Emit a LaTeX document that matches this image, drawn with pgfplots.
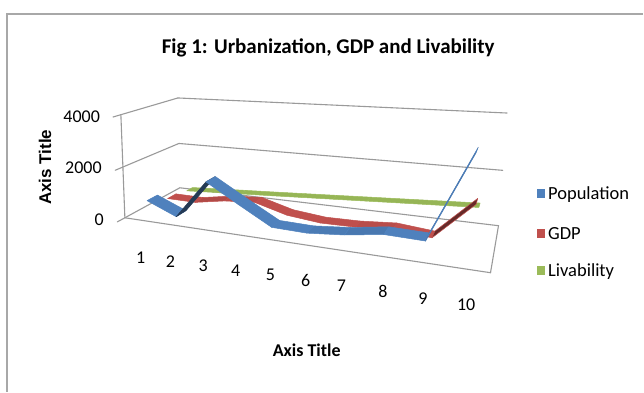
\documentclass[border=0pt]{standalone}
\usepackage{fontspec}
\setmainfont{Carlito}
\newfontfamily\arialfont{Liberation Sans}
\usepackage{pgfplots}
\usepackage{pgfplotstable}
\pgfplotsset{compat=1.18}

\definecolor{popC}{HTML}{4F81BD}
\definecolor{gdpC}{HTML}{C0504D}
\definecolor{livC}{HTML}{9BBB59}
\definecolor{gridC}{HTML}{9A9A9A}
\definecolor{frameC}{HTML}{A8A8A8}

\pgfplotstableread{
cat val
1 580
2 100
3 1590
4 890
5 210
6 180
7 300
8 500
9 470
10 3400
}\population

\pgfplotstableread{
cat val
1 210
2 200
3 410
4 500
5 160
6 30
7 50
8 150
9 30
10 1350
}\gdp

\pgfplotstableread{
cat val
1 80
2 155
3 230
4 300
5 375
6 450
7 525
8 600
9 675
10 750
}\livability

% perspective view of the 3-D line chart: (category, depth, value) -> page
\newcommand{\proj}[3]{%
  \pgfmathsetmacro{\xq}{#1-0.5}%
  \pgfmathsetmacro{\zq}{#3/1000}%
  \pgfmathsetmacro{\wq}{1-0.02381*\xq+0.05107*(#2)-0.00763*\zq}%
  \pgfmathsetmacro{\pu}{(125+24.91*\xq+27.53*(#2)-1.923*\zq)/\wq}%
  \pgfmathsetmacro{\pv}{(218-1.0*\xq-0.4086*(#2)-26.67*\zq)/\wq}%
}

% one straight wall / floor line between two points of the 3-D box
\newcommand{\wallline}[6]{%
  \proj{#1}{#2}{#3}\let\ua\pu\let\va\pv
  \proj{#4}{#5}{#6}\let\ub\pu\let\vb\pv
  \edef\temp{\noexpand\addplot[gridC, line width=1.1pt, line cap=round, forget plot]
    coordinates {(\ua,\va) (\ub,\vb)};}\temp
}

% a series drawn as a ribbon lying between depths #2 and #3
\newcommand{\ribbon}[4]{%
  \pgfplotsforeachungrouped \s in {0,...,8}{%
    \pgfmathtruncatemacro{\segB}{\s+1}%
    \pgfplotstablegetelem{\s}{cat}\of{#1}\let\xa\pgfplotsretval
    \pgfplotstablegetelem{\s}{val}\of{#1}\let\za\pgfplotsretval
    \pgfplotstablegetelem{\segB}{cat}\of{#1}\let\xb\pgfplotsretval
    \pgfplotstablegetelem{\segB}{val}\of{#1}\let\zb\pgfplotsretval
    \proj{\xa}{#2}{\za}\let\ua\pu\let\va\pv
    \proj{\xb}{#2}{\zb}\let\ub\pu\let\vb\pv
    \proj{\xb}{#3}{\zb}\let\uc\pu\let\vc\pv
    \proj{\xa}{#3}{\za}\let\ud\pu\let\vd\pv
    \pgfmathsetmacro{\crs}{(\ub-\ua)*(\vd-\va)-(\vb-\va)*(\ud-\ua)}%
    \pgfmathsetmacro{\rise}{(\zb-\za)/1000}%
    \ifdim\crs pt>0pt
      \def\fillc{#4!45!black}\def\drawc{#4!45!black}%
    \else
      \pgfmathtruncatemacro{\shd}{100-min(50,max(0,35*\rise))}%
      \edef\fillc{#4!\shd!black}\def\drawc{#4}%
    \fi
    \edef\temp{\noexpand\addplot[fill=\fillc, draw=\drawc, line width=0.5pt,
      line join=round, forget plot]
      coordinates {(\ua,\va) (\ub,\vb) (\uc,\vc) (\ud,\vd)} --cycle;}\temp
  }%
}

\begin{document}
\begin{tikzpicture}
\fill[white] (0,0) rectangle (644pt,392pt);
\begin{axis}[
  scale only axis, width=644pt, height=392pt,
  xmin=0, xmax=644, ymin=0, ymax=392, y dir=reverse,
  hide axis, clip=false, no markers,
]
% chart frame
\draw[frameC, line width=1.3pt] (axis cs:7,392) -- (axis cs:7,14) -- (axis cs:644,14);

% floor
\wallline{0.5}{0}{0}{10.5}{0}{0}
\wallline{10.5}{0}{0}{10.5}{3}{0}
\wallline{10.5}{3}{0}{0.5}{3}{0}
\wallline{0.5}{3}{0}{0.5}{0}{0}
% side wall, value axis and gridlines
\wallline{0.5}{0}{0}{0.5}{0}{4000}
\wallline{0.5}{0}{2000}{0.5}{3}{2000}
\wallline{0.5}{0}{4000}{0.5}{3}{4000}
\wallline{0.5}{3}{2000}{10.5}{3}{2000}
\wallline{0.5}{3}{4000}{10.5}{3}{4000}
% tick marks
\wallline{0.5}{0}{0}{0.5}{-0.35}{0}
\wallline{0.5}{0}{2000}{0.5}{-0.35}{2000}
\wallline{0.5}{0}{4000}{0.5}{-0.35}{4000}

% series, back to front
\ribbon{\livability}{2.63}{3.0}{livC}
\ribbon{\gdp}{1.5}{1.98}{gdpC}
\ribbon{\population}{0.42}{0.96}{popC}

% title
\node[anchor=base, font=\bfseries\fontsize{21}{24}\selectfont]
  at (axis cs:328.5,53.5) {Fig 1: Urbanization, GDP and Livability};

% value axis labels
\begin{scope}[font=\fontsize{18}{21}\selectfont]
\node[anchor=east] at (axis cs:103.5,116.5) {4000};
\node[anchor=east] at (axis cs:105.3,168) {2000};
\node[anchor=east] at (axis cs:107.5,220) {0};
% category labels
\node at (axis cs:140.7,258.3) {1};
\node at (axis cs:170.7,261.7) {2};
\node at (axis cs:203.3,266) {3};
\node at (axis cs:236,270.7) {4};
\node at (axis cs:270.7,275) {5};
\node at (axis cs:306,280.7) {6};
\node at (axis cs:341.7,286) {7};
\node at (axis cs:383.3,291.7) {8};
\node at (axis cs:423.3,299.3) {9};
\node at (axis cs:466.7,305) {10};
\end{scope}

% axis titles
\node[rotate=90, font=\arialfont\bfseries\fontsize{17}{20}\selectfont]
  at (axis cs:45,167.5) {Axis Title};
\node[font=\bfseries\fontsize{18}{21}\selectfont]
  at (axis cs:307,350.5) {Axis Title};

% legend
\fill[popC] (axis cs:537.5,189.5) rectangle (axis cs:546,198);
\fill[gdpC] (axis cs:537.5,229.5) rectangle (axis cs:546,238);
\fill[livC] (axis cs:537.5,266.5) rectangle (axis cs:546,275);
\begin{scope}[font=\fontsize{18.5}{22}\selectfont]
\node[anchor=base west, inner sep=0pt] at (axis cs:548.5,200) {Population};
\node[anchor=base west, inner sep=0pt] at (axis cs:548.5,240) {GDP};
\node[anchor=base west, inner sep=0pt] at (axis cs:548.5,276.5) {Livability};
\end{scope}
\end{axis}
\end{tikzpicture}
\end{document}
